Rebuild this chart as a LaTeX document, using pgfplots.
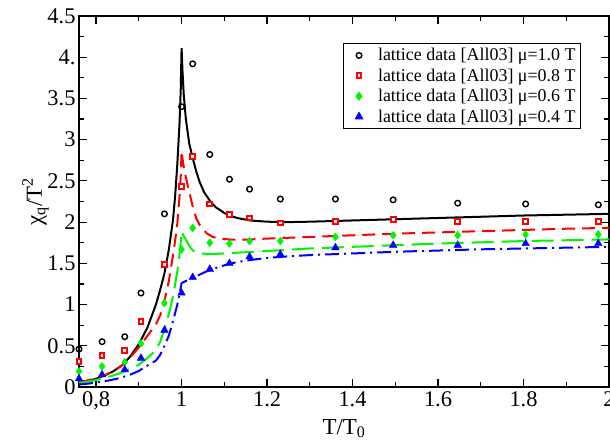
\documentclass[border=0pt]{standalone}
\usepackage{pgfplots}
\pgfplotsset{compat=1.18}
\usepackage{fontspec}
\setmainfont{Liberation Serif}
\definecolor{gred}{RGB}{255,0,0}
\definecolor{ggreen}{RGB}{0,245,0}
\definecolor{gblue}{RGB}{0,0,255}
\begin{document}
\begin{tikzpicture}
\begin{axis}[
  at={(0,0)}, anchor=south west,
  scale only axis, width=530bp, height=371bp,
  xmin=0.76, xmax=2.0, ymin=0, ymax=4.5,
  xtick={0.8,1,1.2,1.4,1.6,1.8,2},
  xticklabels={{0,8},1,1.2,1.4,1.6,1.8,2},
  ytick={0,0.5,1,1.5,2,2.5,3,3.5,4,4.5},
  yticklabels={0,0.5,1,1.5,2,2.5,3,3.5,4.,4.5},
  minor x tick num=1, minor y tick num=1,
  tick align=inside, xtick pos=both, ytick pos=both,
  xticklabel pos=left, yticklabel pos=left,
  major tick length=8bp, minor tick length=5bp,
  every tick/.style={line width=1.2bp, black},
  axis line style={line width=1.4bp},
  /pgf/number format/assume math mode=true,
  tick label style={font=\fontsize{22.5}{24}\selectfont},
  xticklabel style={yshift=-1bp},
  xlabel={T/T\textsubscript{0}},
  ylabel={χ\textsubscript{q}/T\textsuperscript{2}},
  label style={font=\fontsize{23}{26}\selectfont},
  xlabel style={at={(axis description cs:0.5,-0.127)}, anchor=base},
  ylabel style={at={(axis description cs:-0.082,0.5)}, anchor=center},
  legend image code/.code={\path[draw=none,fill=none] (0bp,-1bp) rectangle (30bp,1bp);
     \draw[mark repeat=2, mark phase=2, #1] plot coordinates {(0bp,0bp)(13bp,0bp)(26bp,0bp)};},
  legend style={at={(rel axis cs:0.947,0.927)}, anchor=north east,
    draw=black, line width=0.8bp, font=\fontsize{18}{22}\selectfont,
    row sep=2.5bp, inner xsep=3bp, inner ysep=3bp},
  legend cell align=left,
]
% model curves
\addplot[forget plot, black, line width=2bp] coordinates {
(0.76,0.05)(0.78,0.07)(0.80,0.10)(0.82,0.14)(0.84,0.19)(0.86,0.26)(0.88,0.37)(0.90,0.52)
(0.92,0.72)(0.94,1.00)(0.95,1.18)(0.96,1.38)(0.97,1.66)(0.98,2.03)(0.985,2.32)(0.99,2.70)
(0.995,3.18)(0.998,3.60)(1.000,4.11)
(1.002,3.85)(1.005,3.55)(1.01,3.25)(1.018,2.95)(1.026,2.78)(1.034,2.62)(1.042,2.49)
(1.053,2.36)(1.066,2.26)(1.08,2.18)(1.089,2.15)(1.10,2.11)(1.112,2.08)(1.13,2.05)(1.16,2.02)
(1.20,2.005)(1.25,2.00)(1.30,2.005)(1.40,2.02)(1.50,2.035)(1.60,2.05)(1.70,2.065)(1.80,2.08)(1.90,2.09)(2.00,2.10)};
\addplot[forget plot, gred, line width=2bp, dash pattern=on 13bp off 7bp] coordinates {
(0.76,0.06)(0.78,0.08)(0.80,0.11)(0.82,0.14)(0.84,0.19)(0.86,0.26)(0.88,0.36)(0.90,0.48)
(0.92,0.62)(0.94,0.76)(0.95,0.87)(0.96,1.05)(0.97,1.28)(0.98,1.60)(0.985,1.78)(0.99,1.98)
(0.995,2.30)(0.998,2.55)(1.000,2.86)
(1.004,2.70)(1.009,2.57)(1.015,2.43)(1.02,2.32)(1.026,2.19)(1.034,2.05)(1.042,1.97)(1.05,1.91)
(1.06,1.86)(1.073,1.82)(1.09,1.80)(1.11,1.79)(1.13,1.785)(1.16,1.79)(1.2,1.80)(1.25,1.81)
(1.3,1.82)(1.4,1.84)(1.5,1.86)(1.6,1.875)(1.7,1.89)(1.8,1.905)(1.9,1.92)(2.0,1.93)};
\addplot[forget plot, ggreen, line width=2bp, dash pattern=on 22bp off 8bp] coordinates {
(0.76,0.05)(0.78,0.065)(0.80,0.085)(0.82,0.11)(0.84,0.14)(0.86,0.175)(0.88,0.22)(0.90,0.27)
(0.92,0.35)(0.94,0.45)(0.95,0.55)(0.96,0.70)(0.97,0.88)(0.98,1.10)(0.985,1.25)(0.99,1.40)
(0.995,1.60)(0.998,1.75)(1.000,1.89)
(1.004,1.84)(1.011,1.78)(1.016,1.73)(1.022,1.68)(1.028,1.65)(1.034,1.63)(1.045,1.62)(1.06,1.615)
(1.08,1.615)(1.10,1.62)(1.15,1.635)(1.2,1.65)(1.25,1.665)(1.3,1.68)(1.4,1.70)(1.5,1.72)
(1.6,1.74)(1.7,1.755)(1.8,1.77)(1.9,1.78)(2.0,1.79)};
\addplot[forget plot, gblue, line width=2bp, dash pattern=on 14bp off 5bp on 2bp off 5bp] coordinates {
(0.76,0.03)(0.78,0.04)(0.80,0.055)(0.82,0.07)(0.84,0.09)(0.86,0.115)(0.88,0.15)(0.90,0.195)
(0.92,0.26)(0.94,0.32)(0.95,0.39)(0.96,0.50)(0.97,0.62)(0.98,0.80)(0.99,1.00)(0.995,1.12)(1.0,1.26)
(1.01,1.285)(1.027,1.32)(1.045,1.37)(1.066,1.42)(1.09,1.46)(1.112,1.495)(1.135,1.52)(1.16,1.54)
(1.2,1.565)(1.25,1.585)(1.3,1.60)(1.4,1.62)(1.5,1.64)(1.6,1.655)(1.7,1.67)(1.8,1.68)(1.9,1.69)(2.0,1.70)};
% lattice data
\addplot[only marks, mark=o, mark size=2.8bp, line width=1.4bp, black] coordinates {
(0.76,0.46)(0.814,0.55)(0.867,0.61)(0.905,1.14)(0.96,2.10)(1.0,3.40)(1.026,3.92)
(1.066,2.82)(1.112,2.52)(1.159,2.40)(1.231,2.28)(1.36,2.28)(1.495,2.27)(1.646,2.23)(1.805,2.22)(1.975,2.21)};
\addlegendentry{lattice data [All03] μ=1.0 T}
\addplot[only marks, mark=square*, mark size=2.4bp, line width=2bp, draw=gred, fill=white] coordinates {
(0.76,0.31)(0.814,0.38)(0.867,0.44)(0.905,0.79)(0.96,1.49)(1.0,2.43)(1.026,2.80)
(1.066,2.22)(1.112,2.09)(1.159,2.05)(1.231,1.99)(1.36,2.01)(1.495,2.03)(1.646,2.01)(1.805,2.01)(1.975,2.01)};
\addlegendentry{lattice data [All03] μ=0.8 T}
\addplot[only marks, mark=diamond*, mark size=4bp, draw=ggreen, fill=ggreen] coordinates {
(0.76,0.19)(0.814,0.25)(0.867,0.30)(0.905,0.53)(0.96,1.02)(1.0,1.67)(1.026,1.93)
(1.066,1.75)(1.112,1.74)(1.159,1.77)(1.231,1.77)(1.36,1.82)(1.495,1.84)(1.646,1.84)(1.805,1.85)(1.975,1.85)};
\addlegendentry{lattice data [All03] μ=0.6 T}
\addplot[only marks, mark=triangle*, mark size=4.4bp, draw=gblue, fill=gblue] coordinates {
(0.76,0.10)(0.814,0.15)(0.867,0.21)(0.905,0.35)(0.96,0.69)(1.0,1.14)(1.026,1.33)
(1.066,1.43)(1.112,1.50)(1.159,1.58)(1.231,1.61)(1.36,1.69)(1.495,1.72)(1.646,1.72)(1.805,1.74)(1.975,1.74)};
\addlegendentry{lattice data [All03] μ=0.4 T}
\end{axis}
\pgfresetboundingbox
\path (-79bp,-54bp) rectangle (531bp,387bp);
\end{tikzpicture}
\end{document}
